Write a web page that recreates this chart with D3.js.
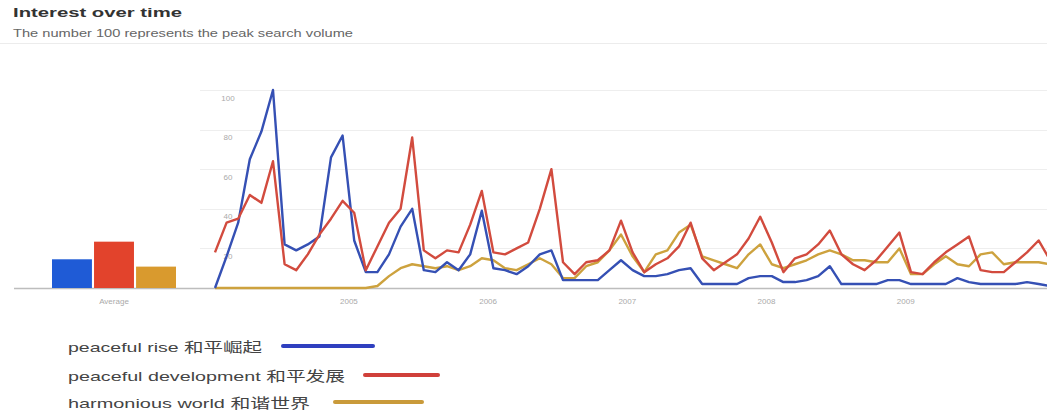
<!DOCTYPE html>
<html>
<head>
<meta charset="utf-8">
<script src="https://cdn.jsdelivr.net/npm/d3@7/dist/d3.min.js"></script>
<style>
  html, body { margin: 0; padding: 0; background: #fff; }
  svg { display: block; }
  text { font-family: "Liberation Sans", Arial, "Noto Sans CJK SC", sans-serif; }
</style>
</head>
<body>
<svg id="chart" width="1047" height="413"></svg>
<script>
// ---- data (monthly, Jan 2004 onward) ----
const seriesNames = ["peaceful rise 和平崛起", "peaceful development 和平发展", "harmonious world 和谐世界"];
const peacefulRise = [
  0,16,33,65,79,100,22,19,22,26,
  66,77,24,8,8,17,31,40,9,8,
  13,9,17,39,10,9,7,11,17,19,
  4,4,4,4,9,14,9,6,6,7,
  9,10,2,2,2,2,5,6,6,3,
  3,4,6,11,2,2,2,2,4,4,
  2,2,2,2,5,3,2,2,2,2,
  3,2,1];
const peacefulDevelopment = [
  18,33,35,47,43,64,12,9,17,27,
  35,44,38,9,21,33,40,76,19,15,
  19,18,32,49,18,17,20,23,40,60,
  13,7,13,14,19,34,18,8,12,15,
  21,33,15,9,13,17,25,36,23,8,
  15,17,22,29,17,12,9,14,21,28,
  8,7,13,18,22,26,9,8,8,13,
  18,24,14];
const harmoniousWorld = [
  0,0,0,0,0,0,0,0,0,0,
  0,0,0,0,1,6,10,12,11,10,
  11,9,11,15,14,10,9,12,15,12,
  5,5,11,13,19,27,16,8,17,19,
  28,32,16,14,12,10,17,22,12,10,
  12,14,17,19,17,14,14,13,13,20,
  7,7,12,16,12,11,17,18,12,13,
  13,13,12];
const averages = [14.5, 23.4, 10.8];
const averageLabel = "Average";
const yearLabels = ["2005", "2006", "2007", "2008", "2009"];
const yTickValues = [20, 40, 60, 80, 100];
const titleText = "Interest over time";
const subtitleText = "The number 100 represents the peak search volume";

// ---- styles ----
const lineColors = ["#3550b4", "#d24b3e", "#cda23e"];
const barColors = ["#1f5bd6", "#e2432c", "#d99a2e"];
const legendColors = ["#2f3fbf", "#d0403a", "#c99a3a"];

const svg = d3.select("#chart");

// header
svg.append("text").attr("x", 13).attr("y", 16.5)
  .attr("font-size", 12.5).attr("font-weight", "bold").attr("fill", "#333")
  .attr("textLength", 169).attr("lengthAdjust", "spacingAndGlyphs")
  .text(titleText);
svg.append("text").attr("x", 13).attr("y", 37)
  .attr("font-size", 10).attr("fill", "#666")
  .attr("textLength", 340).attr("lengthAdjust", "spacingAndGlyphs")
  .text(subtitleText);
svg.append("line").attr("x1", 0).attr("x2", 1047).attr("y1", 43.5).attr("y2", 43.5)
  .attr("stroke", "#ececec").attr("stroke-width", 1);

// scales
const y = d3.scaleLinear().domain([0, 100]).range([288, 90]);
const monthW = 11.6;
const x = d3.scaleLinear().domain([0.5, 72.5]).range([215, 215 + 72 * monthW]);

// gridlines
svg.append("g").selectAll("line").data(yTickValues).join("line")
  .attr("x1", 200).attr("x2", 1047)
  .attr("y1", d => Math.round(y(d)) + 0.5).attr("y2", d => Math.round(y(d)) + 0.5)
  .attr("stroke", "#eeeeee").attr("stroke-width", 1);

// y labels
svg.append("g").selectAll("text").data(yTickValues).join("text")
  .attr("x", 228).attr("y", d => y(d) + 10.5)
  .attr("text-anchor", "middle").attr("font-size", 8).attr("fill", "#aaa")
  .text(d => d);

// baseline
svg.append("line").attr("x1", 14).attr("x2", 1047).attr("y1", 288.5).attr("y2", 288.5)
  .attr("stroke", "#bdbdbd").attr("stroke-width", 1.5);

// average bars
const band = d3.scaleBand().domain(d3.range(averages.length)).range([52, 176]).paddingInner(0.05);
svg.append("g").selectAll("rect").data(averages).join("rect")
  .attr("x", (d, i) => band(i)).attr("width", band.bandwidth())
  .attr("y", d => y(d)).attr("height", d => y(0) - y(d))
  .attr("fill", (d, i) => barColors[i]);
svg.append("text").attr("x", 114).attr("y", 304)
  .attr("text-anchor", "middle").attr("font-size", 8).attr("fill", "#aaa")
  .text(averageLabel);

// x axis (year ticks at Jan 1; points at mid-month)
const xAxis = d3.axisBottom(x)
  .tickValues(yearLabels.map((d, i) => 12 * (i + 1)))
  .tickFormat((d, i) => yearLabels[i])
  .tickSize(0).tickPadding(9);
const gx = svg.append("g").attr("transform", "translate(0,289)").call(xAxis);
gx.select(".domain").remove();
gx.selectAll("text").attr("font-size", 8).attr("fill", "#aaa")
  .attr("font-family", "\"Liberation Sans\", Arial, sans-serif");

// lines
const allSeries = [harmoniousWorld, peacefulRise, peacefulDevelopment];
const colorIdx = [2, 0, 1];
const line = d3.line().x((d, i) => x(i + 0.5)).y(d => y(d));
const gl = svg.append("g");
allSeries.forEach((s, k) => {
  gl.append("path").datum(s)
    .attr("fill", "none")
    .attr("stroke", lineColors[colorIdx[k]])
    .attr("stroke-width", 2.4)
    .attr("stroke-linejoin", "round")
    .attr("d", line);
});

// legend
const legendTextW = [194, 277, 242];
const legendLineStart = [283, 365, 335];
const legendLineLen = [90, 73, 87];
const legendY = [347, 376, 403];
const lg = svg.append("g");
seriesNames.forEach((name, i) => {
  lg.append("text").attr("x", 68).attr("y", legendY[i] + 5)
    .attr("font-size", 13.5).attr("fill", "#444")
    .attr("font-family", "\"Liberation Sans\", Arial, \"Noto Sans CJK SC\", sans-serif")
    .attr("textLength", legendTextW[i]).attr("lengthAdjust", "spacingAndGlyphs")
    .text(name);
  lg.append("line")
    .attr("x1", legendLineStart[i]).attr("x2", legendLineStart[i] + legendLineLen[i])
    .attr("y1", legendY[i] - 1).attr("y2", legendY[i] - 1)
    .attr("stroke", legendColors[i]).attr("stroke-width", 4)
    .attr("stroke-linecap", "round");
});
</script>
</body>
</html>
